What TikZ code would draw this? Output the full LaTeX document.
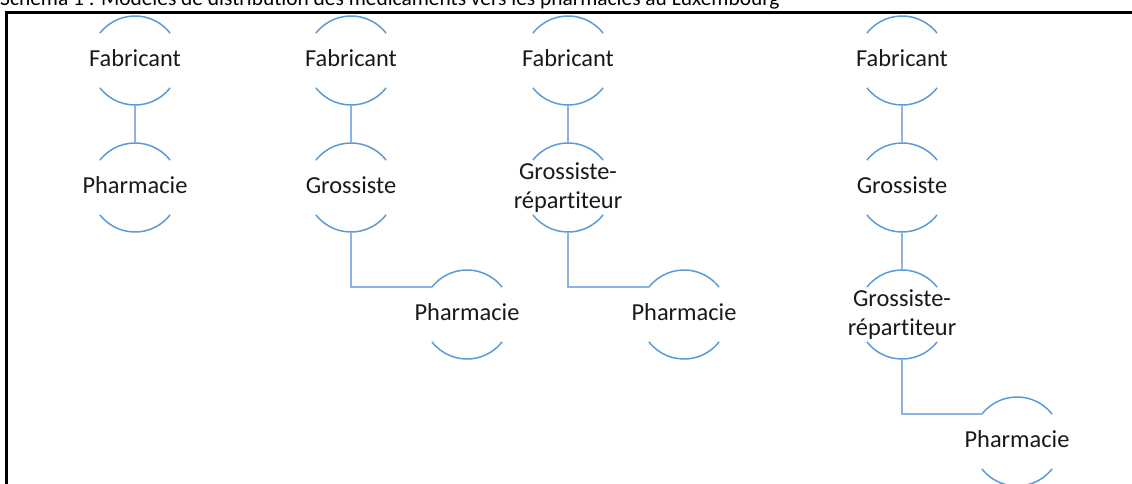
\documentclass[tikz,border=0pt]{standalone}
\usepackage{fontspec}
\setmainfont{Carlito}[Ligatures=NoCommon]
\definecolor{arcblue}{RGB}{91,155,213}
\definecolor{connblue}{RGB}{140,180,224}
\begin{document}
\begin{tikzpicture}[x=1pt,y=1pt,
  hub/.style={circle, minimum size=89pt, inner sep=0pt, outer sep=0pt},
  lbl/.style={inner sep=0pt, font=\fontsize{24.4}{29}\selectfont, text=black!90, align=center},
  one/.style={lbl, text height=17pt, text depth=5pt},
  two/.style={lbl, yshift=-0.5pt},
  arcline/.style={draw=arcblue, line width=1.5pt},
  conn/.style={draw=connblue, line width=1.3pt},
  frame/.style={draw=black, line width=2.2pt}
]
\clip (0,0) rectangle (1132,-484);
% title and frame
\node[anchor=base west, inner sep=0pt, font=\fontsize{21.4}{24}\selectfont] (title) at (0,-5.3)
  {Schéma 1 : Modèles de distribution des médicaments vers les pharmacies au Luxembourg};
\draw[frame] (6.5,-495) -- (6.5,-12.5) -- (1140,-12.5);

% hubs
\node[hub] (f1) at (135,-60.5) {};
\node[hub] (p1) at (135,-187.5) {};
\node[hub] (f2) at (351,-60.5) {};
\node[hub] (g2) at (351,-187.5) {};
\node[hub] (p2) at (467,-314.5) {};
\node[hub] (f3) at (568,-60.5) {};
\node[hub] (r3) at (568,-187.5) {};
\node[hub] (p3) at (684,-314.5) {};
\node[hub] (f4) at (902,-60.5) {};
\node[hub] (g4) at (902,-187.5) {};
\node[hub] (r4) at (902,-314.5) {};
\node[hub] (p4) at (1017,-441.5) {};

% labels
\node[one] (f1t) at (f1) {Fabricant};
\node[one] (p1t) at (p1) {Pharmacie};
\node[one] (f2t) at (f2) {Fabricant};
\node[one] (g2t) at (g2) {Grossiste};
\node[one] (p2t) at (p2) {Pharmacie};
\node[one] (f3t) at (f3) {Fabricant};
\node[two] (r3t) at (r3) {Grossiste-\\répartiteur};
\node[one] (p3t) at (p3) {Pharmacie};
\node[one] (f4t) at (f4) {Fabricant};
\node[one] (g4t) at (g4) {Grossiste};
\node[two] (r4t) at (r4) {Grossiste-\\répartiteur};
\node[one] (p4t) at (p4) {Pharmacie};

% arcs
\foreach \n in {f1,p1,f2,g2,p2,f3,r3,p3,f4,g4,r4,p4}{
  \draw[arcline] (\n.142) arc[start angle=142, end angle=38, radius=44.5pt];
  \draw[arcline] (\n.218) arc[start angle=218, end angle=322, radius=44.5pt];
}

% connectors
\draw[conn] (f1.south) -- (p1.north);
\draw[conn] (f2.south) -- (g2.north);
\draw[conn] (g2.south) |- (p2.142);
\draw[conn] (f3.south) -- (r3.north);
\draw[conn] (r3.south) |- (p3.142);
\draw[conn] (f4.south) -- (g4.north);
\draw[conn] (g4.south) -- (r4.north);
\draw[conn] (r4.south) |- (p4.142);
\end{tikzpicture}
\end{document}
